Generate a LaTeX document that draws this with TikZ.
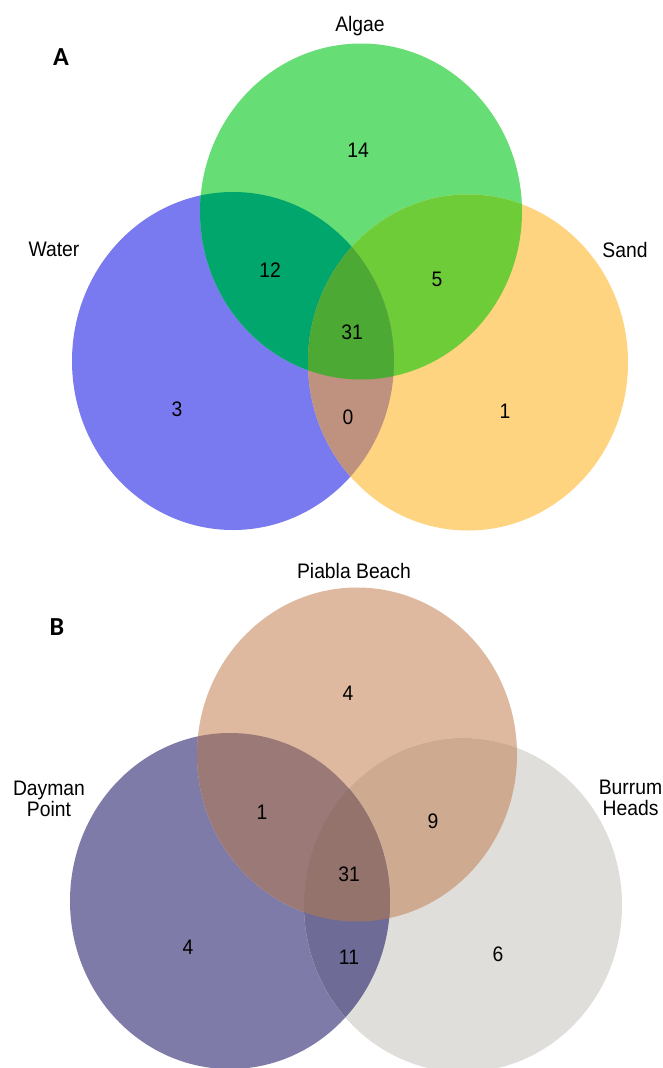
\documentclass[tikz,border=0pt]{standalone}
\usepackage{fontspec}
\setmainfont{Liberation Sans}[FakeStretch=0.92]
\newfontfamily\panelfont{Carlito}
\definecolor{cWat}{RGB}{122,122,240}
\definecolor{cAlg}{RGB}{102,221,117}
\definecolor{cSan}{RGB}{255,212,128}
\definecolor{cWA}{RGB}{0,166,107}
\definecolor{cAS}{RGB}{110,204,56}
\definecolor{cWS}{RGB}{190,146,126}
\definecolor{cWAS}{RGB}{76,170,52}
\definecolor{cDay}{RGB}{126,123,168}
\definecolor{cPia}{RGB}{222,185,160}
\definecolor{cBur}{RGB}{224,222,218}
\definecolor{cDP}{RGB}{155,121,118}
\definecolor{cPB}{RGB}{206,170,144}
\definecolor{cDB}{RGB}{110,108,150}
\definecolor{cDPB}{RGB}{148,115,108}
\tikzset{
  txt/.style={font=\fontsize{21}{21}\selectfont, anchor=base, inner sep=0pt, text=black},
  two/.style={txt, align=center, font=\fontsize{21}{21}\selectfont},
  panel/.style={font=\panelfont\bfseries\fontsize{26}{26}\selectfont, inner sep=0pt, text=black}
}
\def\Wat{(233,361) ellipse [x radius=161pt, y radius=169pt]}
\def\Alg{(361,211.5) ellipse [x radius=161pt, y radius=168pt]}
\def\San{(468,362.5) ellipse [x radius=160pt, y radius=168pt]}
\def\Day{(230,901) ellipse [x radius=160pt, y radius=168pt]}
\def\Pia{(357,754.5) ellipse [x radius=160pt, y radius=167pt]}
\def\Bur{(463,905) ellipse [x radius=159pt, y radius=167pt]}
\begin{document}
\begin{tikzpicture}[x=1pt,y=-1pt]
\fill[white] (0,0) rectangle (663,1068);
\useasboundingbox (0,0) rectangle (663,1068);
% ---------- Panel A ----------
\fill[cWat] \Wat;
\fill[cAlg] \Alg;
\fill[cSan] \San;
\begin{scope}\clip \Wat; \fill[cWA] \Alg; \end{scope}
\begin{scope}\clip \Alg; \fill[cAS] \San; \end{scope}
\begin{scope}\clip \Wat; \fill[cWS] \San; \end{scope}
\begin{scope}\clip \Wat; \clip \Alg; \fill[cWAS] \San; \end{scope}
\node[panel] (pA) at (61,57) {A};
\node[txt] (lAlg) at (360,31) {Algae};
\node[txt] (lWat) at (54,256) {Water};
\node[txt] (lSan) at (625,257) {Sand};
\node[txt] (n14) at (358,157) {14};
\node[txt] (n12) at (270,277) {12};
\node[txt] (n5) at (437,286) {5};
\node[txt] (n31a) at (352,339) {31};
\node[txt] (n3) at (177,416) {3};
\node[txt] (n0) at (348,424) {0};
\node[txt] (n1a) at (505,418) {1};
% ---------- Panel B ----------
\fill[cDay] \Day;
\fill[cPia] \Pia;
\fill[cBur] \Bur;
\begin{scope}\clip \Day; \fill[cDP] \Pia; \end{scope}
\begin{scope}\clip \Pia; \fill[cPB] \Bur; \end{scope}
\begin{scope}\clip \Day; \fill[cDB] \Bur; \end{scope}
\begin{scope}\clip \Day; \clip \Pia; \fill[cDPB] \Bur; \end{scope}
\node[panel] (pB) at (57,627) {B};
\node[txt] (lPia) at (354,578) {Piabla Beach};
\node[two, anchor=north] (lDay) at (49,781) {Dayman\\Point};
\node[two, anchor=north] (lBur) at (630.5,780) {Burrum\\Heads};
\node[txt] (n4p) at (348,700) {4};
\node[txt] (n1b) at (262,819) {1};
\node[txt] (n9) at (433,828) {9};
\node[txt] (n31b) at (349,881) {31};
\node[txt] (n4d) at (188,954) {4};
\node[txt] (n11) at (349,964) {11};
\node[txt] (n6) at (498,961) {6};
\end{tikzpicture}
\end{document}
